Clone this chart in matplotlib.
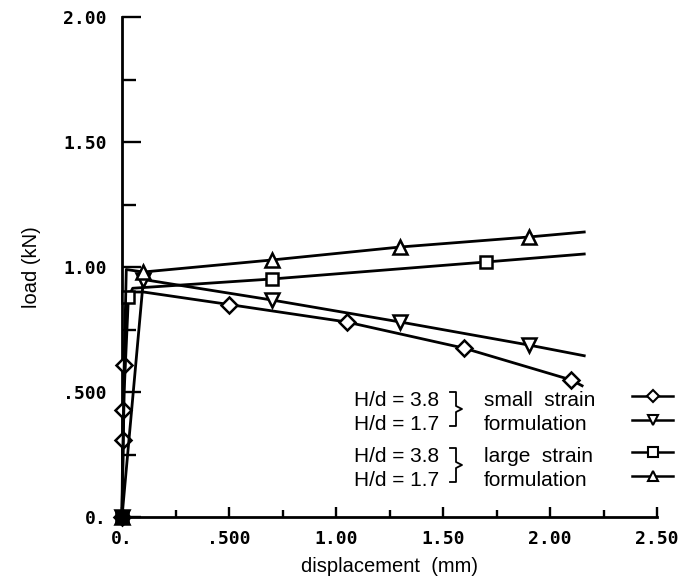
import numpy as np
import matplotlib.pyplot as plt
from matplotlib.lines import Line2D

# wartosci: przemieszczenie (mm) i obciazenie (kN)
disp_small_38 = [0.0, 0.003, 0.005, 0.008, 0.03, 0.1, 0.5, 1.05, 1.6, 2.1, 2.15]
load_small_38 = [0.0, 0.31, 0.43, 0.61, 0.90, 0.90, 0.85, 0.78, 0.675, 0.548, 0.525]
mark_small_38 = [0, 1, 2, 3, 6, 7, 8, 9]

disp_small_17 = [0.0, 0.1, 0.7, 1.3, 1.9, 2.16]
load_small_17 = [0.0, 0.95, 0.868, 0.78, 0.688, 0.645]
mark_small_17 = [0, 1, 2, 3, 4]

disp_large_38 = [0.0, 0.01, 0.03, 0.05, 0.7, 1.7, 2.16]
load_large_38 = [0.0, 0.50, 0.88, 0.915, 0.952, 1.02, 1.052]
mark_large_38 = [0, 2, 4, 5]

disp_large_17 = [0.0, 0.01, 0.02, 0.1, 0.7, 1.3, 1.9, 2.16]
load_large_17 = [0.0, 0.60, 0.99, 0.98, 1.028, 1.08, 1.12, 1.14]
mark_large_17 = [0, 3, 4, 5, 6]

x_ticks = [0.0, 0.5, 1.0, 1.5, 2.0, 2.5]
x_tick_labels = ['0.', '.500', '1.00', '1.50', '2.00', '2.50']
y_ticks = [0.0, 0.5, 1.0, 1.5, 2.0]
y_tick_labels = ['0.', '.500', '1.00', '1.50', '2.00']

legend_left = ['H/d = 3.8', 'H/d = 1.7', 'H/d = 3.8', 'H/d = 1.7']
legend_right = ['small  strain', 'formulation', 'large  strain', 'formulation']
legend_markers = ['D', 'v', 's', '^']

W, H = 691, 580


def fpx(x, y):
    # piksele obrazka -> ulamki figury
    return x / W, 1 - y / H


fig = plt.figure(figsize=(W / 100, H / 100), dpi=100)
ax = fig.add_axes([122 / W, 63 / H, (657 - 122) / W, (517 - 17) / H])

lw = 2.0
series = [
    (disp_small_38, load_small_38, mark_small_38, 'D', 8),
    (disp_small_17, load_small_17, mark_small_17, 'v', 9.5),
    (disp_large_38, load_large_38, mark_large_38, 's', 8.5),
    (disp_large_17, load_large_17, mark_large_17, '^', 9.5),
]
for xs, ys, mk, m, ms in series:
    ax.plot(xs, ys, color='black', lw=lw, marker=m, markevery=mk, ms=ms,
            mfc='white', mec='black', mew=1.8, clip_on=False, zorder=3)

# zaczernione punkty w poczatku ukladu (nakladajace sie znaczniki)
ax.plot(disp_large_38[0], load_large_38[0], marker='s', ms=9, color='black',
        clip_on=False, zorder=4)

ax.set_xlim(0, 2.5)
ax.set_ylim(0, 2.0)
for s in ['top', 'right']:
    ax.spines[s].set_visible(False)
for s in ['left', 'bottom']:
    ax.spines[s].set_linewidth(2.0)

ax.set_xticks(x_ticks)
ax.set_xticklabels(x_tick_labels)
ax.set_yticks(y_ticks)
ax.set_yticklabels(y_tick_labels)
ax.set_xticks(np.arange(0.25, 2.5, 0.5), minor=True)
ax.set_yticks(np.arange(0.25, 2.0, 0.5), minor=True)

ax.tick_params(axis='x', which='major', direction='in', length=7.5, width=1.7, pad=9)
ax.tick_params(axis='x', which='minor', direction='in', length=5, width=1.7)
ax.tick_params(axis='y', which='major', direction='in', length=13.5, width=1.7, pad=11)
ax.tick_params(axis='y', which='minor', direction='in', length=10, width=1.7)
for lab in ax.get_xticklabels() + ax.get_yticklabels():
    lab.set_fontfamily('DejaVu Sans Mono')
    lab.set_fontweight('bold')
    lab.set_fontsize(13)

ax.set_xlabel('displacement  (mm)', fontfamily='Liberation Sans', fontsize=14.5, labelpad=7)
ax.set_ylabel('load (kN)', fontfamily='Liberation Sans', fontsize=14.5, labelpad=16)

# legenda rysowana recznie
rows_y = [400, 424, 456, 480]
for i in range(4):
    fig.text(*fpx(354, rows_y[i]), legend_left[i], fontfamily='Liberation Sans',
             fontsize=15, va='center', ha='left')
    fig.text(*fpx(484, rows_y[i]), legend_right[i], fontfamily='Liberation Sans',
             fontsize=15, va='center', ha='left')
    xa, ya = fpx(632, rows_y[i] - 4)
    xb, _ = fpx(673, rows_y[i] - 4)
    fig.add_artist(Line2D([xa, xb], [ya, ya], color='black', lw=1.8))
    fig.add_artist(Line2D([(xa + xb) / 2], [ya], marker=legend_markers[i], ms=6.5,
                          mfc='white', mec='black', mew=1.5, color='black'))

# nawiasy klamrowe
for top in [rows_y[0] - 8, rows_y[2] - 8]:
    bot = top + 34
    mid = (top + bot) / 2
    pts = [(450, top), (456, top), (456, mid - 3), (462, mid), (456, mid + 3),
           (456, bot), (450, bot)]
    xs = [fpx(p[0], p[1])[0] for p in pts]
    ys = [fpx(p[0], p[1])[1] for p in pts]
    fig.add_artist(Line2D(xs, ys, color='black', lw=1.3))

fig.savefig('out.png', dpi=100)
